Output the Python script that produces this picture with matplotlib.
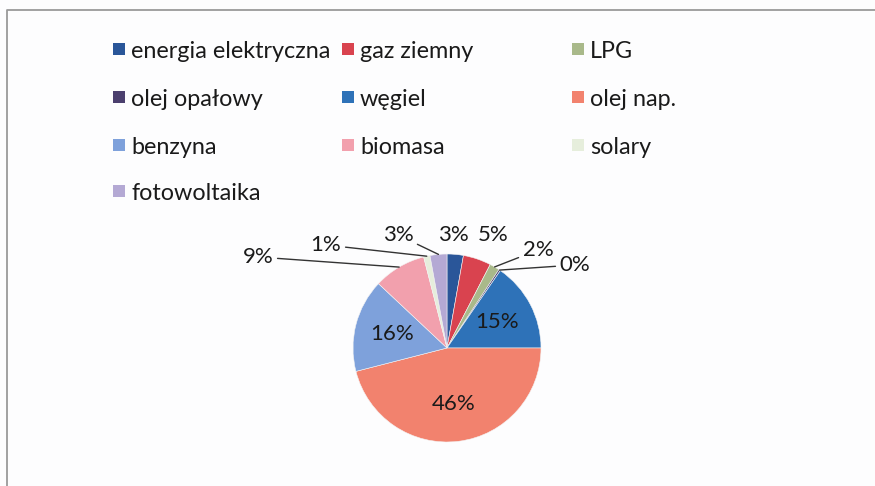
import numpy as np
import matplotlib.pyplot as plt
from matplotlib.patches import Rectangle
from matplotlib.lines import Line2D

plt.rcParams['font.family'] = ['Lato', 'DejaVu Sans']

labels = ["energia elektryczna", "gaz ziemny", "LPG", "olej opałowy", "węgiel",
          "olej nap.", "benzyna", "biomasa", "solary", "fotowoltaika"]
shares = [2.8, 4.8, 1.7, 0.3, 15.4, 46.0, 16.0, 9.0, 1.1, 2.9]
colors = ["#2a5699", "#d9434f", "#a9b98a", "#4b3f6e", "#2e72b8",
          "#f2826e", "#7ea1db", "#f2a0ad", "#e6eedc", "#b4a9d4"]

W, H = 875, 486
fig = plt.figure(figsize=(W / 100, H / 100), dpi=100)
fig.patch.set_facecolor("#fdfdfe")

# chart frame (only top and left edges visible in the scan)
fig.add_artist(Line2D([7 / W, 7 / W, 1.0], [0.0, (H - 10) / H, (H - 10) / H],
                      transform=fig.transFigure, color="#9a9a9a", linewidth=1.3))

# pie
cx, cy, r = 447, 348, 94
ax = fig.add_axes([(cx - r) / W, (H - cy - r) / H, 2 * r / W, 2 * r / H])
wedges, _ = ax.pie(shares, colors=colors, startangle=90, counterclock=False,
                   wedgeprops=dict(linewidth=0.4, edgecolor="#f4f4f4"))
ax.set_xlim(-1, 1)
ax.set_ylim(-1, 1)
ax.set_aspect("equal")

# label positions in pixels for small slices (None = inside label)
label_px = [(453, 235), (493, 235), (538, 250), (575, 265), None,
            None, None, (258, 257), (326, 245), (398, 235)]
leader = [False, False, True, True, False, False, False, True, True, True]

def to_data(px, py):
    return (px - cx) / r, (cy - py) / r

for w, v, pos, lead in zip(wedges, shares, label_px, leader):
    mid = np.deg2rad((w.theta1 + w.theta2) / 2)
    txt = f"{v:.0f}%"
    if pos is None:
        ax.text(0.6 * np.cos(mid), 0.6 * np.sin(mid), txt, ha="center", va="center",
                fontsize=16, color="#1a1a1a")
    else:
        tx, ty = to_data(*pos)
        if lead:
            ax.annotate(txt, xy=(np.cos(mid), np.sin(mid)), xytext=(tx, ty),
                        ha="center", va="center", fontsize=16, color="#1a1a1a",
                        annotation_clip=False,
                        arrowprops=dict(arrowstyle="-", color="#333333", lw=1,
                                        shrinkA=1, shrinkB=0))
        else:
            ax.text(tx, ty, txt, ha="center", va="center", fontsize=16, color="#1a1a1a")

# legend laid out row by row, three columns
col_x = [113, 342, 572]
row_y = [49, 97, 145, 191]
sq = 12
for i, (name, c) in enumerate(zip(labels, colors)):
    x = col_x[i % 3]
    y = row_y[i // 3]
    fig.add_artist(Rectangle((x / W, (H - y - sq / 2) / H), sq / W, sq / H,
                             transform=fig.transFigure, facecolor=c, edgecolor="none"))
    fig.text((x + sq + 6) / W, (H - y) / H, name, ha="left", va="center_baseline",
             fontsize=16.8, color="#1a1a1a")

fig.savefig("out.png", dpi=100, facecolor=fig.get_facecolor())
